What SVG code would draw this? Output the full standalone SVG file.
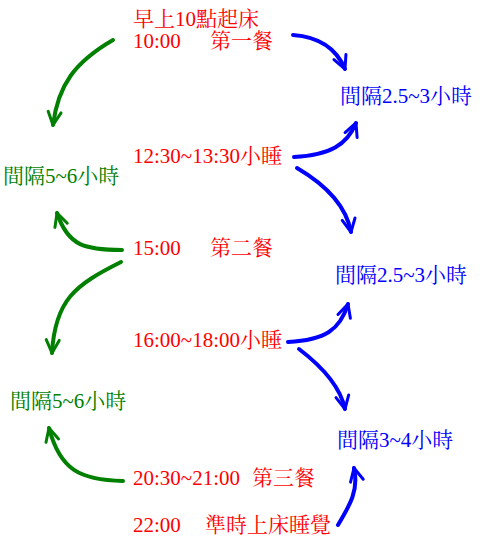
<svg xmlns="http://www.w3.org/2000/svg" width="480" height="542" viewBox="0 0 480 542">
<style>
text{font-family:"Liberation Serif","Noto Serif CJK TC","Noto Sans CJK TC",serif;font-size:21px}
.r{fill:#ff0000}.g{fill:#008000}.b{fill:#0000ff}
.cg{fill:none;stroke:#008000;stroke-width:4;stroke-linecap:round}
.cb{fill:none;stroke:#0000ff;stroke-width:4;stroke-linecap:round}
</style>
<defs>
<marker id="ag" markerUnits="userSpaceOnUse" markerWidth="30" markerHeight="30" refX="0" refY="0" viewBox="-15 -15 30 30" orient="auto" overflow="visible">
<path d="M-13,-6.5 L0,0 L-13,6.5" fill="none" stroke="#008000" stroke-width="3" stroke-linecap="round" stroke-linejoin="round"/>
</marker>
<marker id="ab" markerUnits="userSpaceOnUse" markerWidth="30" markerHeight="30" refX="0" refY="0" viewBox="-15 -15 30 30" orient="auto" overflow="visible">
<path d="M-13,-6.5 L0,0 L-13,6.5" fill="none" stroke="#0000ff" stroke-width="3" stroke-linecap="round" stroke-linejoin="round"/>
</marker>
</defs>
<rect width="480" height="542" fill="#ffffff"/>
<g id="connectors">
<path class="cg" marker-end="url(#ag)" d="M113,40 C75,62 58,85 53,125"/>
<path class="cb" marker-end="url(#ab)" d="M293,35 C320,37 337,50 345,69"/>
<path class="cb" marker-end="url(#ab)" d="M294,157 C330,155 347,145 356,123"/>
<path class="cb" marker-end="url(#ab)" d="M297,168 C326,185 346,205 351,232"/>
<path class="cg" marker-end="url(#ag)" d="M122,250 C85,250 68,246 57,213"/>
<path class="cg" marker-end="url(#ag)" d="M121,262 C75,285 55,300 52,353"/>
<path class="cb" marker-end="url(#ab)" d="M288,342 C325,340 340,330 348,304"/>
<path class="cb" marker-end="url(#ab)" d="M299,349 C320,365 340,385 345,409"/>
<path class="cg" marker-end="url(#ag)" d="M123,481 C80,480 60,470 49,428"/>
<path class="cb" marker-end="url(#ab)" d="M338,525 C350,505 359,490 354,468"/>
</g>
<g id="n-wake"><text class="r" x="133" y="26">早上10點起床</text></g>
<g id="n-meal1"><text class="r" x="133" y="48">10:00<tspan x="210">第一餐</tspan></text></g>
<g id="n-int1"><text class="b" x="340" y="103">間隔2.5~3小時</text></g>
<g id="n-gap1"><text class="g" x="3" y="183">間隔5~6小時</text></g>
<g id="n-nap1"><text class="r" x="133" y="163">12:30~13:30小睡</text></g>
<g id="n-meal2"><text class="r" x="133" y="255">15:00<tspan x="210">第二餐</tspan></text></g>
<g id="n-int2"><text class="b" x="335" y="282">間隔2.5~3小時</text></g>
<g id="n-nap2"><text class="r" x="133" y="347">16:00~18:00小睡</text></g>
<g id="n-gap2"><text class="g" x="10" y="408">間隔5~6小時</text></g>
<g id="n-int3"><text class="b" x="337" y="447">間隔3~4小時</text></g>
<g id="n-meal3"><text class="r" x="133" y="485">20:30~21:00<tspan x="252">第三餐</tspan></text></g>
<g id="n-sleep"><text class="r" x="133" y="532">22:00<tspan x="205">準時上床睡覺</tspan></text></g>
</svg>
